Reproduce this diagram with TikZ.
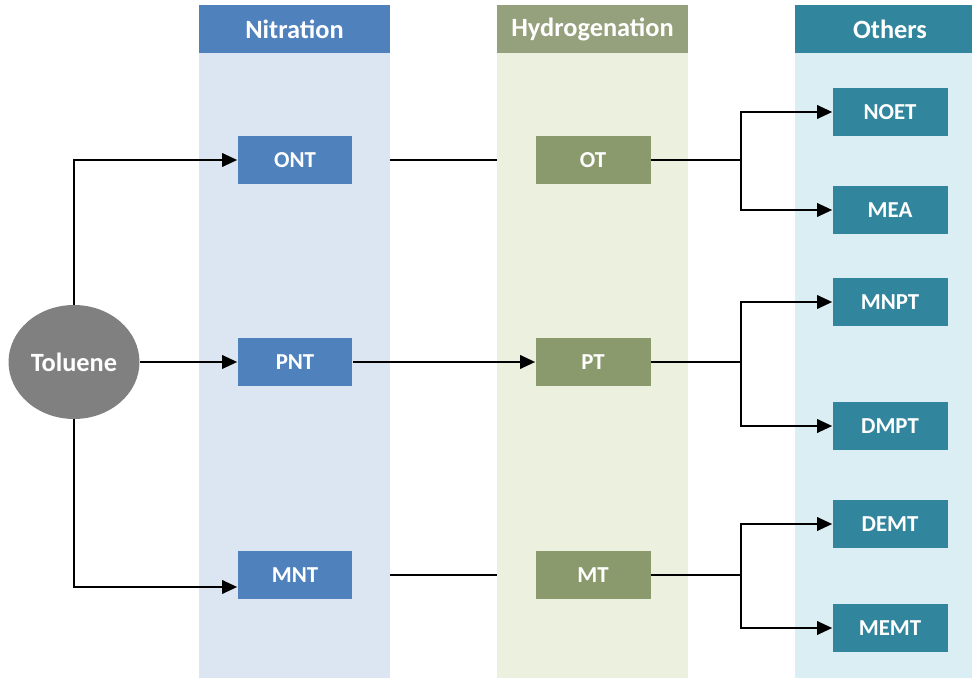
\documentclass[tikz,border=0pt]{standalone}
\usepackage{fontspec}
\setmainfont{Carlito}
\usepackage{tikz}
\usetikzlibrary{positioning, arrows.meta, shapes}
\definecolor{azul}{RGB}{79, 129, 189}
\definecolor{celeste}{RGB}{220, 230, 242}
\definecolor{oliva}{RGB}{139, 154, 108}
\definecolor{olivaclaro}{RGB}{149, 160, 125}
\definecolor{pistacho}{RGB}{235, 241, 222}
\definecolor{petroleo}{RGB}{49, 133, 156}
\definecolor{aguamar}{RGB}{219, 238, 243}
\definecolor{gris}{RGB}{128, 128, 128}
\pgfdeclarelayer{fondo}
\pgfdeclarelayer{cols}
\pgfsetlayers{fondo,cols,main}
\tikzset{
    head/.style={rectangle, text=white, font=\fontsize{15}{18}\selectfont\bfseries, minimum width=3.82cm, minimum height=0.96cm, inner sep=0pt},
    col/.style={rectangle, minimum width=3.82cm, minimum height=12.5cm, inner sep=0pt},
    proc/.style={rectangle, text=white, font=\fontsize{13}{15}\selectfont\bfseries, minimum width=2.3cm, minimum height=0.96cm, inner sep=0pt},
    conn/.style={-, black, line width=1.1pt},
    arr/.style={conn, -{Triangle[length=0.3cm, width=0.27cm]}},
}
\begin{document}
\begin{tikzpicture}[x=0.02cm, y=-0.02cm]
    \useasboundingbox (0,0) rectangle (972,678);

    % columns
    \begin{pgfonlayer}{cols}
        \node[col, fill=celeste] (colnit) at (294.5,365.5) {};
        \node[col, fill=pistacho] (colhyd) at (592.5,365.5) {};
        \node[col, fill=aguamar] (coloth) at (890,365.5) {};
    \end{pgfonlayer}
    \node[head, fill=azul] (hnit) at (294.5,29) {Nitration};
    \node[head, fill=olivaclaro] (hhyd) at (592.5,29) {Hydrogenation};
    \node[head, fill=petroleo] (hoth) at (890,29) {Others};

    \node[ellipse, fill=gris, text=white, minimum width=2.62cm, minimum height=2.28cm, inner sep=0pt, font=\fontsize{15}{18}\selectfont\bfseries] (tol) at (74,362) {Toluene};

    \node[proc, fill=azul] (ont) at (295,160) {ONT};
    \node[proc, fill=azul] (pnt) at (295,362) {PNT};
    \node[proc, fill=azul] (mnt) at (295,575) {MNT};

    \node[proc, fill=oliva] (ot) at (593,160) {OT};
    \node[proc, fill=oliva] (pt) at (593,362) {PT};
    \node[proc, fill=oliva] (mt) at (593,575) {MT};

    \node[proc, fill=petroleo] (noet) at (890,112) {NOET};
    \node[proc, fill=petroleo] (mea) at (890,210) {MEA};
    \node[proc, fill=petroleo] (mnpt) at (890,302) {MNPT};
    \node[proc, fill=petroleo] (dmpt) at (890,426) {DMPT};
    \node[proc, fill=petroleo] (demt) at (890,524) {DEMT};
    \node[proc, fill=petroleo] (memt) at (890,628) {MEMT};

    \draw[arr] (tol.north) |- (ont.west);
    \draw[arr] (tol) -- (pnt);
    \draw[arr] (tol.south) |- ([yshift=-0.24cm]mnt.west);

    \begin{pgfonlayer}{fondo}
        \draw[conn] (ont) -- (ot);
        \draw[conn] (mnt) -- (mt);
    \end{pgfonlayer}
    \draw[arr] (pnt) -- (pt);

    \draw[conn] (ot.east) -- ++(90,0) coordinate (splitot);
    \draw[arr] (splitot) |- (noet.west);
    \draw[arr] (splitot) |- (mea.west);
    \draw[conn] (pt.east) -- ++(90,0) coordinate (splitpt);
    \draw[arr] (splitpt) |- (mnpt.west);
    \draw[arr] (splitpt) |- (dmpt.west);
    \draw[conn] (mt.east) -- ++(90,0) coordinate (splitmt);
    \draw[arr] (splitmt) |- (demt.west);
    \draw[arr] (splitmt) |- (memt.west);
\end{tikzpicture}
\end{document}
